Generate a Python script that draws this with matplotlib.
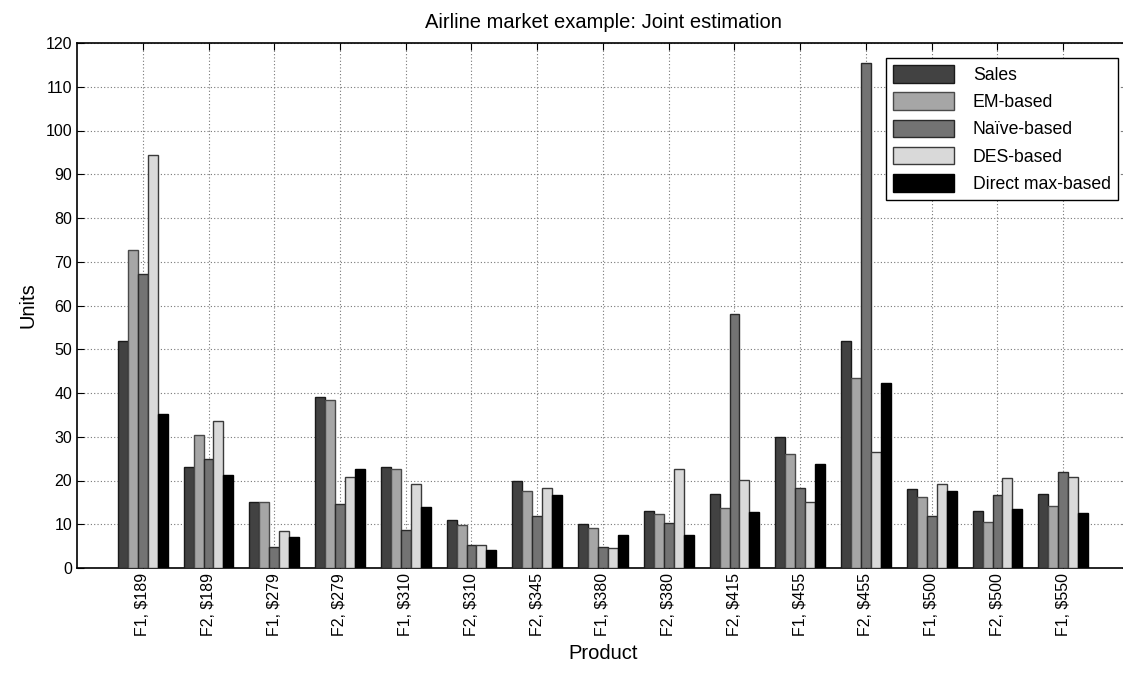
import numpy as np
import matplotlib
matplotlib.use("Agg")
import matplotlib.pyplot as plt

plt.rcParams['font.family'] = ['Liberation Sans', 'DejaVu Sans']

# data
products = ["F1, $189", "F2, $189", "F1, $279", "F2, $279", "F1, $310",
            "F2, $310", "F2, $345", "F1, $380", "F2, $380", "F2, $415",
            "F1, $455", "F2, $455", "F1, $500", "F2, $500", "F1, $550"]
sales = [52, 23, 15, 39, 23, 11, 20, 10, 13, 17, 30, 52, 18, 13, 17]
em_based = [72.7, 30.3, 15.0, 38.5, 22.7, 9.8, 17.6, 9.2, 12.4, 13.8, 26.1, 43.5, 16.2, 10.5, 14.2]
naive_based = [67.3, 25.0, 4.9, 14.7, 8.6, 5.3, 11.9, 4.9, 10.3, 58.0, 18.2, 115.4, 11.9, 16.8, 22.0]
des_based = [94.3, 33.7, 8.5, 20.7, 19.2, 5.2, 18.4, 4.6, 22.6, 20.1, 15.1, 26.6, 19.2, 20.5, 20.8]
direct_max = [35.3, 21.3, 7.2, 22.6, 14.0, 4.1, 16.6, 7.6, 7.5, 12.9, 23.8, 42.4, 17.6, 13.4, 12.6]

series = [sales, em_based, naive_based, des_based, direct_max]
labels = ["Sales", "EM-based", "Na\u00efve-based", "DES-based", "Direct max-based"]
colors = ["#424242", "#a6a6a6", "#737373", "#d9d9d9", "#000000"]
edges = ["#1a1a1a", "#4a4a4a", "#2a2a2a", "#3a3a3a", "#000000"]

fig = plt.figure(figsize=(11.23, 6.79), dpi=100)
ax = fig.add_axes([77 / 1123, 111 / 679, 1052 / 1123, 525 / 679])

x = np.arange(len(products))
w = 0.152
for i, vals in enumerate(series):
    ax.bar(x + (i - 2) * w, vals, width=w, color=colors[i], edgecolor=edges[i],
           linewidth=1.0, label=labels[i], zorder=3)

ax.set_xlim(-1, 15)
ax.set_ylim(0, 120)
ax.set_yticks(np.arange(0, 121, 10))
ax.set_xticks(x)
ax.set_xticklabels(products, rotation=90, fontsize=11.5)
ax.tick_params(axis='y', labelsize=11.5, direction='in', right=True, length=5)
ax.tick_params(axis='x', direction='in', top=True, length=5)
ax.grid(True, linestyle=(0, (1, 2)), color='#777777', linewidth=0.8, zorder=0)
for s in ax.spines.values():
    s.set_linewidth(1.2)

ax.set_title("Airline market example: Joint estimation", fontsize=14.5, pad=11)
ax.set_xlabel("Product", fontsize=14.5, labelpad=6)
ax.set_ylabel("Units", fontsize=14.5, labelpad=6)

leg = ax.legend(loc='upper right', bbox_to_anchor=(0.9895, 0.971),
                fontsize=12.7, fancybox=False, framealpha=1, edgecolor='black',
                handlelength=3.5, handleheight=1.15, labelspacing=0.48,
                borderpad=0.4, handletextpad=1.05, borderaxespad=0)
leg.get_frame().set_linewidth(1.0)
leg.set_zorder(5)

fig.savefig("out.png", dpi=100)
